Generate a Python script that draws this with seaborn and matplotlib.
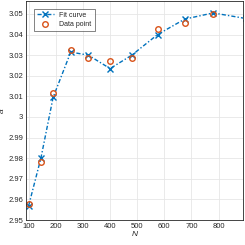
import matplotlib
matplotlib.use("Agg")
import matplotlib.pyplot as plt
import seaborn as sns
import pandas as pd

N_fit = [100, 145, 190, 255, 320, 400, 480, 575, 675, 780, 900]
a_fit = [2.957, 2.980, 3.0095, 3.0315, 3.0300, 3.0235, 3.0300, 3.0400, 3.0475, 3.0505, 3.0478]
N_data = [100, 145, 190, 255, 320, 400, 480, 575, 675, 780]
a_data = [2.958, 2.978, 3.0115, 3.0325, 3.0285, 3.0270, 3.0285, 3.0425, 3.0455, 3.0500]

xticks = [100, 200, 300, 400, 500, 600, 700, 800]
yticks = [2.95, 2.96, 2.97, 2.98, 2.99, 3.00, 3.01, 3.02, 3.03, 3.04, 3.05]
ytick_labels = ["2.95", "2.96", "2.97", "2.98", "2.99", "3", "3.01", "3.02", "3.03", "3.04", "3.05"]

sns.set_style("whitegrid")
plt.rcParams['font.family'] = ['Liberation Sans', 'DejaVu Sans']

fit_df = pd.DataFrame({"N": N_fit, "a": a_fit})
data_df = pd.DataFrame({"N": N_data, "a": a_data})

fig = plt.figure(figsize=(2.45, 2.45), dpi=100)
ax = fig.add_axes([0.106, 0.102, 0.886, 0.894])

sns.lineplot(data=fit_df, x="N", y="a", ax=ax, color="#0072BD",
             dashes=False, linewidth=1.0, marker="x", markersize=4, markeredgewidth=1.0,
             markeredgecolor="#0072BD", label="Fit curve")
ax.lines[0].set_dashes([3, 1.5, 1, 1.5])
ax.plot(N_data, a_data, linestyle="none", marker="o", markersize=4,
        markerfacecolor="none", markeredgecolor="#D95319", markeredgewidth=1.0,
        label="Data point")

ax.set_xlim(90, 890)
ax.set_ylim(2.95, 3.0563)
ax.set_xticks(xticks)
ax.set_xticklabels([str(t) for t in xticks])
ax.set_yticks(yticks)
ax.set_yticklabels(ytick_labels)

ax.grid(True, color="#e6e6e6", linewidth=0.6)
for s in ax.spines.values():
    s.set_visible(True)
    s.set_color("#262626")
    s.set_linewidth(0.6)
ax.tick_params(direction="in", length=2, width=0.5, labelsize=5.5,
               colors="#262626", pad=2)
ax.set_xlabel("N", fontsize=6, style="italic", labelpad=1, color="#262626")
ax.set_ylabel("a", fontsize=6, style="italic", labelpad=2, color="#262626")

leg = ax.legend(loc="upper left", fontsize=5, frameon=True, fancybox=False,
                edgecolor="#262626", borderpad=0.4, handlelength=2.5,
                labelspacing=0.4, bbox_to_anchor=(0.02, 0.98))
leg.get_frame().set_linewidth(0.5)

fig.savefig("out.png", dpi=100)
